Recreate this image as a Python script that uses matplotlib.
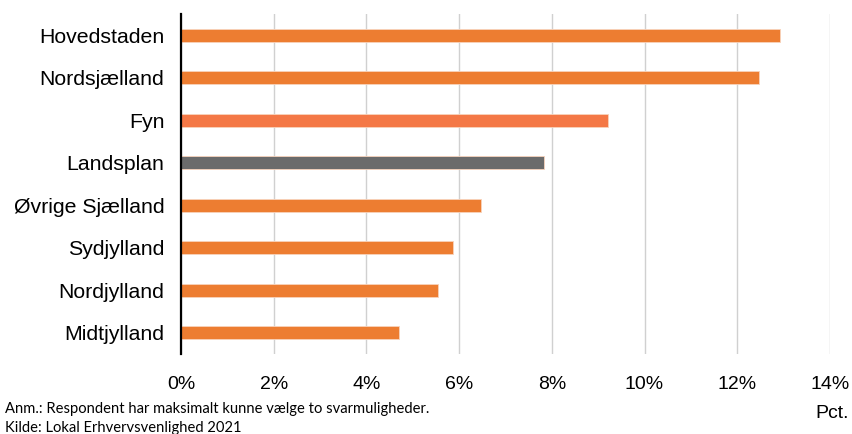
import matplotlib
matplotlib.use("Agg")
import matplotlib.pyplot as plt

categories = ["Hovedstaden", "Nordsjælland", "Fyn", "Landsplan", "Øvrige Sjælland",
              "Sydjylland", "Nordjylland", "Midtjylland"]
values = [12.92, 12.47, 9.22, 7.83, 6.47, 5.86, 5.54, 4.70]
colors = ["#ED7D31", "#ED7D31", "#F47846", "#6B6B6B", "#ED7D31", "#ED7D31", "#ED7D31", "#ED7D31"]
xticks = [0, 2, 4, 6, 8, 10, 12, 14]
xtick_labels = ["0%", "2%", "4%", "6%", "8%", "10%", "12%", "14%"]

plt.rcParams['font.family'] = ['Liberation Sans', 'DejaVu Sans']

fig = plt.figure(figsize=(8.53, 4.34), dpi=100)
ax = fig.add_axes([0.2122, 0.1843, 0.9730 - 0.2122, 0.9677 - 0.1843])

ypos = list(range(len(categories)))
ax.barh(ypos, values, height=0.3, color=colors, edgecolor="#F8D3BC", linewidth=0.6, zorder=3)
ax.set_ylim(len(categories) - 0.5, -0.5)
ax.set_xlim(0, 14)
ax.set_yticks(ypos)
ax.set_yticklabels(categories, fontsize=15.3)
ax.set_xticks(xticks)
ax.set_xticklabels(xtick_labels, fontsize=14)
ax.tick_params(axis='y', length=0, pad=12)
ax.tick_params(axis='x', length=0, pad=16)
ax.grid(axis='x', color="#D0D0D0", linewidth=1.0, zorder=0)
for s in ["top", "right", "bottom"]:
    ax.spines[s].set_visible(False)
ax.spines["left"].set_linewidth(1.6)
ax.spines["left"].set_color("black")
ax.spines["left"].set_zorder(4)

fig.text(5 / 853, 1 - 409 / 434, "Anm.: Respondent har maksimalt kunne vælge to svarmuligheder.",
         fontsize=10.6, family=['Lato', 'DejaVu Sans'], va='center', ha='left')
fig.text(5 / 853, 1 - 428 / 434, "Kilde: Lokal Erhvervsvenlighed 2021",
         fontsize=10.6, family=['Lato', 'DejaVu Sans'], va='center', ha='left')
fig.text(849 / 853, 1 - 414 / 434, "Pct.", fontsize=14, va='center', ha='right')

fig.savefig("out.png", dpi=100)
